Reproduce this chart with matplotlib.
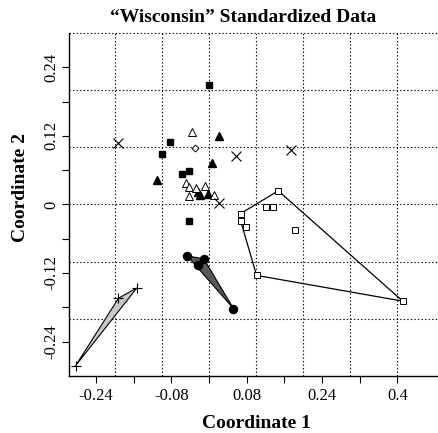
import matplotlib
matplotlib.use("Agg")
import matplotlib.pyplot as plt
import numpy as np
from matplotlib.patches import Polygon

plt.rcParams['font.family'] = ['Liberation Serif', 'DejaVu Serif']
plt.rcParams['axes.unicode_minus'] = False

# ---- data (Coordinate 1, Coordinate 2) ----
filled_sq_x = [0.000, -0.083, -0.100, -0.058, -0.043, -0.043]
filled_sq_y = [0.209, 0.110, 0.089, 0.053, 0.059, -0.028]

filled_tri_x = [0.021, -0.110, 0.007, -0.024, -0.020, -0.003]
filled_tri_y = [0.120, 0.043, 0.072, 0.022, 0.017, 0.019]

open_tri_x = [-0.036, -0.049, -0.042, -0.027, -0.009, -0.042, 0.011]
open_tri_y = [0.127, 0.037, 0.030, 0.029, 0.032, 0.015, 0.017]

diamond_x = [-0.030]
diamond_y = [0.098]

cross_x = [-0.193, 0.058, 0.174, 0.021]
cross_y = [0.107, 0.084, 0.096, 0.003]

open_sq_x = [0.067, 0.067, 0.078, 0.120, 0.136, 0.147, 0.182, 0.101, 0.411]
open_sq_y = [-0.016, -0.028, -0.040, -0.005, -0.005, 0.024, -0.044, -0.124, -0.169]

circle_x = [-0.046, -0.011, -0.024, 0.052]
circle_y = [-0.090, -0.095, -0.106, -0.182]

plus_x = [-0.283, -0.192, -0.153]
plus_y = [-0.282, -0.164, -0.146]

xticks = [-0.24, -0.16, -0.08, 0.0, 0.08, 0.16, 0.24, 0.32, 0.40]
xticklabels = ['-0.24', '', '-0.08', '', '0.08', '', '0.24', '', '0.4']
yticks = [-0.24, -0.18, -0.12, -0.06, 0.0, 0.06, 0.12, 0.18, 0.24]
yticklabels = ['-0.24', '', '-0.12', '', '0', '', '0.12', '', '0.24']
xgrid = [-0.2, -0.1, 0.0, 0.1, 0.2, 0.3, 0.4]
ygrid = [-0.2, -0.1, 0.0, 0.1, 0.2, 0.3]


def hull(xs, ys):
    pts = sorted(set(zip(xs, ys)))
    if len(pts) < 3:
        return pts
    def cross(o, a, b):
        return (a[0]-o[0])*(b[1]-o[1]) - (a[1]-o[1])*(b[0]-o[0])
    lower, upper = [], []
    for p in pts:
        while len(lower) >= 2 and cross(lower[-2], lower[-1], p) <= 0:
            lower.pop()
        lower.append(p)
    for p in reversed(pts):
        while len(upper) >= 2 and cross(upper[-2], upper[-1], p) <= 0:
            upper.pop()
        upper.append(p)
    return lower[:-1] + upper[:-1]


fig = plt.figure(figsize=(4.38, 4.33), dpi=100)
ax = fig.add_axes([69/438, 1-376/433, 1-69/438, (376-33)/433])
ax.set_xlim(-0.297, 0.486)
ax.set_ylim(-0.3, 0.3)

dot = (0, (1.2, 2.0))
for g in xgrid:
    ax.axvline(g, color='black', lw=0.8, ls=dot, zorder=0)
for g in ygrid:
    ax.axhline(g, color='black', lw=0.8, ls=dot, zorder=0, clip_on=False)

# hulls
ax.add_patch(Polygon(hull(plus_x, plus_y), closed=True, facecolor='#c8c8c8',
                     edgecolor='black', lw=0.8, zorder=2))
ax.add_patch(Polygon(hull(circle_x, circle_y), closed=True, facecolor='#5a5a5a',
                     edgecolor='black', lw=0.8, zorder=2))
ax.add_patch(Polygon(hull(open_sq_x, open_sq_y), closed=True, facecolor='none',
                     edgecolor='black', lw=0.9, zorder=2))

ax.plot(filled_sq_x, filled_sq_y, 's', color='black', ms=4.8, ls='none', zorder=3)
ax.plot(filled_tri_x, filled_tri_y, '^', color='black', ms=5.8, ls='none', zorder=3)
ax.plot(open_tri_x, open_tri_y, '^', mfc='white', mec='black', mew=0.7, ms=5.8, ls='none', zorder=3)
ax.plot(diamond_x, diamond_y, 'D', mfc='white', mec='black', mew=0.7, ms=3.5, ls='none', zorder=3)
ax.plot(cross_x, cross_y, 'x', color='black', mew=0.8, ms=7, ls='none', zorder=3)
ax.plot(open_sq_x, open_sq_y, 's', mfc='white', mec='black', mew=0.7, ms=4.8, ls='none', zorder=3)
ax.plot(circle_x, circle_y, 'o', color='black', ms=5.8, ls='none', zorder=3)
ax.plot(plus_x, plus_y, '+', color='black', mew=0.8, ms=7, ls='none', zorder=3)

ax.spines['top'].set_visible(False)
ax.spines['right'].set_visible(False)
ax.spines['left'].set_linewidth(1.0)
ax.spines['bottom'].set_linewidth(1.0)

ax.set_xticks(xticks)
ax.set_xticklabels(xticklabels, fontsize=12)
ax.set_yticks(yticks)
ax.set_yticklabels(yticklabels, fontsize=12, rotation=90, va='center')
ax.tick_params(direction='out', length=5, width=0.8)
ax.tick_params(axis='x', pad=4)
ax.tick_params(axis='y', pad=2)

fig.text(243/438, 1-17/433, '\u201cWisconsin\u201d Standardized Data', ha='center', va='center',
         fontsize=14, fontweight='bold')
fig.text(256/438, 1-424/433, 'Coordinate 1', ha='center', va='center',
         fontsize=14, fontweight='bold')
fig.text(21/438, 1-187/433, 'Coordinate 2', ha='center', va='center',
         fontsize=14, fontweight='bold', rotation=90)

fig.savefig('out.png', dpi=100)
